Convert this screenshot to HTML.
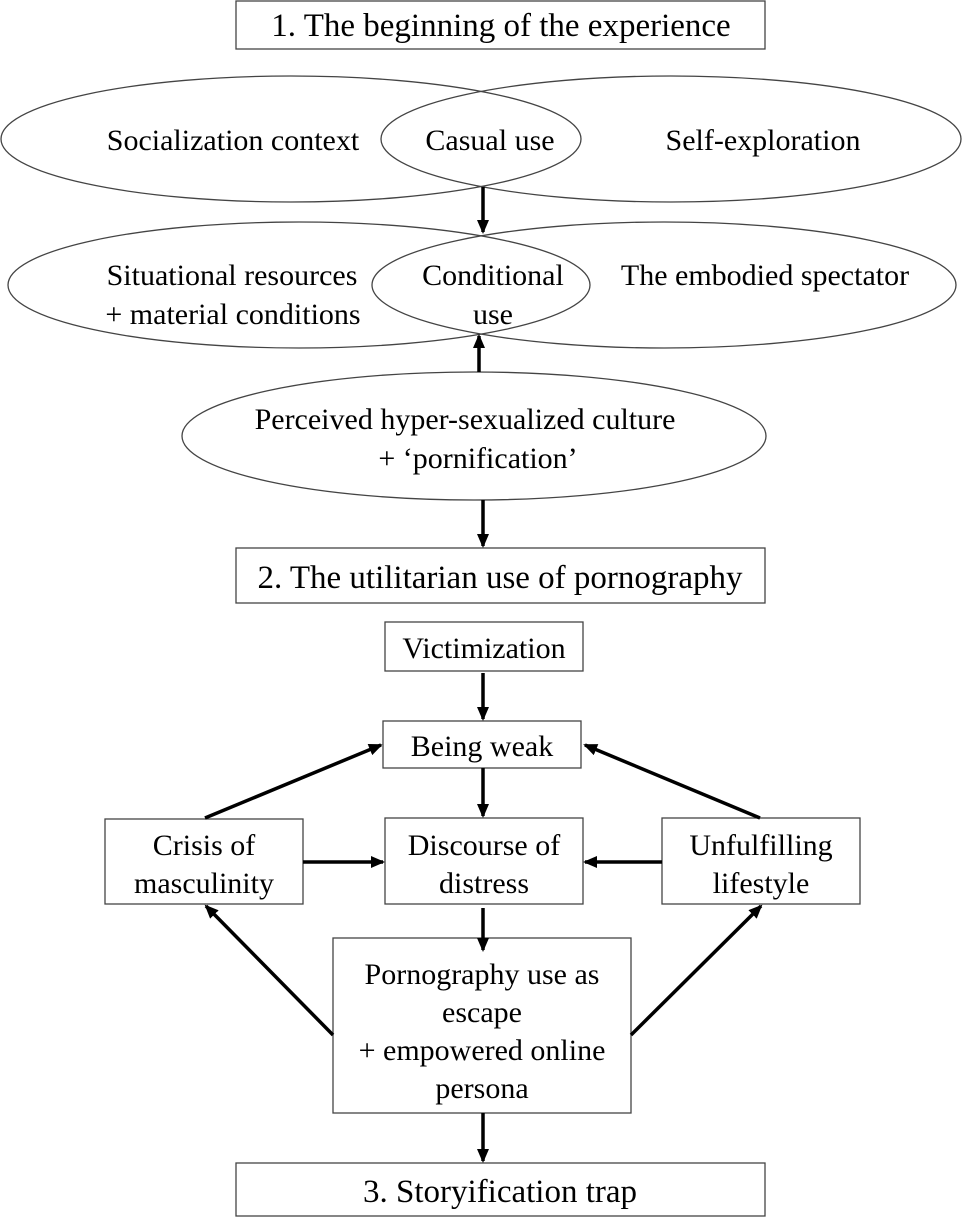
<!DOCTYPE html>
<html><head><style>
body{margin:0;background:#fff}
svg text{font-family:"Liberation Serif",serif;font-size:30px;fill:#000;text-anchor:middle}
</style></head><body>
<svg width="963" height="1219" viewBox="0 0 963 1219" xmlns="http://www.w3.org/2000/svg">
<defs><marker id="a" markerWidth="14" markerHeight="12" refX="12" refY="6" orient="auto" markerUnits="userSpaceOnUse"><path d="M0,0 L14,6 L0,12 z" fill="#000"/></marker></defs>
<g fill="none" stroke="#444" stroke-width="1.3">
<rect x="236" y="1" width="529" height="48"/>
<ellipse cx="291" cy="139" rx="290" ry="63"/>
<ellipse cx="671" cy="139" rx="290" ry="63"/>
<ellipse cx="299" cy="285" rx="291" ry="63"/>
<ellipse cx="664" cy="285" rx="292" ry="63"/>
<ellipse cx="474" cy="436" rx="292" ry="64"/>
<rect x="236" y="548" width="529" height="55"/>
<rect x="385" y="622" width="198" height="49"/>
<rect x="383" y="721" width="198" height="47"/>
<rect x="385" y="818" width="198" height="86"/>
<rect x="105" y="819" width="198" height="85"/>
<rect x="662" y="818" width="198" height="86"/>
<rect x="333" y="938" width="298" height="175"/>
<rect x="236" y="1163" width="529" height="53"/>
</g>
<g stroke="#000" stroke-width="3.5" marker-end="url(#a)">
<line x1="483" y1="187" x2="483" y2="232"/>
<line x1="479" y1="372" x2="479" y2="336"/>
<line x1="483" y1="500" x2="483" y2="546"/>
<line x1="483" y1="673" x2="483" y2="719"/>
<line x1="483" y1="768" x2="483" y2="816"/>
<line x1="303" y1="862" x2="383" y2="862"/>
<line x1="662" y1="862" x2="585" y2="862"/>
<line x1="205" y1="818" x2="381" y2="745"/>
<line x1="760" y1="818" x2="585" y2="745"/>
<line x1="483" y1="908" x2="483" y2="950"/>
<line x1="333" y1="1035" x2="206" y2="906"/>
<line x1="631" y1="1035" x2="761" y2="906"/>
<line x1="483" y1="1113" x2="483" y2="1161"/>
</g>
<text x="501" y="36" style="font-size:33px">1. The beginning of the experience</text>
<text x="233" y="150">Socialization context</text>
<text x="490" y="150">Casual use</text>
<text x="763" y="150">Self-exploration</text>
<text x="232" y="285">Situational resources</text>
<text x="233" y="324">+ material conditions</text>
<text x="493" y="285">Conditional</text>
<text x="493" y="324">use</text>
<text x="765" y="285">The embodied spectator</text>
<text x="465" y="429">Perceived hyper-sexualized culture</text>
<text x="478" y="468">+ ‘pornification’</text>
<text x="500" y="588" style="font-size:33px">2. The utilitarian use of pornography</text>
<text x="484" y="658">Victimization</text>
<text x="482" y="756">Being weak</text>
<text x="484" y="855">Discourse of</text>
<text x="484" y="893">distress</text>
<text x="204" y="855">Crisis of</text>
<text x="204" y="893">masculinity</text>
<text x="761" y="855">Unfulfilling</text>
<text x="761" y="893">lifestyle</text>
<text x="482" y="984">Pornography use as</text>
<text x="482" y="1022">escape</text>
<text x="482" y="1060">+ empowered online</text>
<text x="482" y="1098">persona</text>
<text x="500" y="1202" style="font-size:33px">3. Storyification trap</text>
</svg>
</body></html>
